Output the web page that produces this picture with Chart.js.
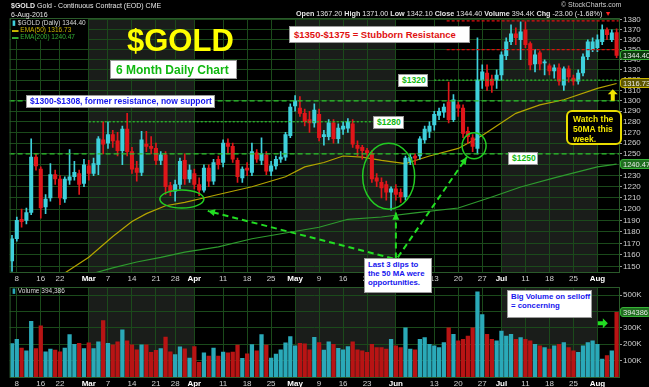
<!DOCTYPE html>
<html>
<head>
<meta charset="utf-8">
<script src="https://cdn.jsdelivr.net/npm/chart.js@4.4.1/dist/chart.umd.min.js"></script>
<style>
body { margin: 0; background: #000; }
#wrap { position: relative; width: 649px; height: 387px; background: #000; overflow: hidden; font-family: "Liberation Sans", Arial, sans-serif; }
canvas { position: absolute; left: 0; }
#priceCanvas { top: 0; }
#volCanvas { top: 287px; }
.t { position: absolute; white-space: nowrap; line-height: 1; }
.box { position: absolute; background: #fff; border: 1px solid #9a9a9a; font-weight: bold; white-space: nowrap; line-height: 1.15; box-sizing: border-box; }
.tag { position: absolute; left: 620px; height: 10px; padding: 0 2px; border-radius: 3px; font-size: 7.5px; line-height: 10px; box-sizing: border-box; }
</style>
</head>
<body>
<div id="wrap">
  <canvas id="priceCanvas" width="649" height="287"></canvas>
  <canvas id="volCanvas" width="649" height="100"></canvas>

  <div class="t" style="left:11px;top:2px;font-size:7px;color:#e6e6e6"><b>$GOLD</b> Gold - Continuous Contract (EOD) CME</div>
  <div class="t" style="left:11px;top:11px;font-size:7px;color:#e6e6e6">6-Aug-2016</div>
  <div class="t" style="left:561px;top:1px;font-size:7px;color:#cfcfcf">© StockCharts.com</div>
  <div class="t" id="quote" style="left:296px;top:10px;font-size:7.2px;color:#e6e6e6"><b>Open</b> 1367.20 <b>High</b> 1371.00 <b>Low</b> 1342.10 <b>Close</b> 1344.40 <b>Volume</b> 394.4K <b>Chg</b> -23.00 (-1.68%) <span style="color:#ff2020">▼</span></div>

  <div class="t" style="left:11px;top:19px;width:77px;height:21px;background:#000"></div>
  <div class="t" style="left:12px;top:20px;font-size:6.5px;color:#d8d8d8"><span style="color:#3fd0dc">▮</span> $GOLD (Daily) 1344.40</div>
  <div class="t" style="left:12px;top:27px;font-size:6.5px;color:#c9b400"><span>▬</span> EMA(50) 1316.73</div>
  <div class="t" style="left:12px;top:34px;font-size:6.5px;color:#35b035"><span>▬</span> EMA(200) 1240.47</div>

  <div class="t" style="left:127px;top:25px;font-size:31px;font-weight:bold;color:#ffff00">$GOLD</div>
  <div class="box" style="left:110px;top:60px;width:127px;height:19px;padding:3px 0 0 5px;font-size:12px;color:#10b810">6 Month Daily Chart</div>
  <div class="box" style="left:26px;top:95px;width:189px;height:13px;padding:1px 0 0 3px;font-size:8.5px;color:#1515ee">$1300-$1308, former resistance, now support</div>
  <div class="box" style="left:289px;top:26px;width:181px;height:17px;padding:3px 0 0 4px;font-size:9.5px;color:#e01010">$1350-$1375 = Stubborn Resistance</div>
  <div class="box" style="left:398px;top:74px;width:30px;height:13px;padding:1px 0 0 3px;font-size:8.5px;color:#10b810">$1320</div>
  <div class="box" style="left:373px;top:116px;width:31px;height:13px;padding:1px 0 0 3px;font-size:8.5px;color:#10b810">$1280</div>
  <div class="box" style="left:508px;top:152px;width:30px;height:13px;padding:1px 0 0 3px;font-size:8.5px;color:#10b810">$1250</div>
  <div class="box" style="left:566px;top:110px;width:56px;height:35px;padding:3px 0 0 5px;font-size:8.5px;color:#f2e600;background:#000;border:2px solid #e8dc00;border-radius:6px">Watch the<br>50MA this<br>week.</div>
  <div class="box" style="left:364px;top:258px;width:68px;height:35px;padding:2px 0 0 3px;font-size:7.8px;color:#1515ee">Last 3 dips to<br>the 50 MA were<br>opportunities.</div>
  <div class="box" style="left:507px;top:290px;width:85px;height:28px;padding:2px 0 0 3px;font-size:7.8px;color:#1515ee">Big Volume on selloff<br>= concerning</div>

  <div class="t" style="left:12px;top:288px;font-size:6.5px;color:#d8d8d8"><span style="color:#2aa9b8">▮</span> Volume 394,386</div>

  <div class="tag" id="tagClose" style="background:#0c3a0c;border:1px solid #37b337;color:#e8e8e8">1344.40</div>
  <div class="tag" id="tagEma50" style="background:#5e5600;border:1px solid #c9b400;color:#e8e8e8">1316.73</div>
  <div class="tag" id="tagEma200" style="background:#1f6e1f;border:1px solid #37b337;color:#e8e8e8">1240.47</div>
  <div class="tag" id="tagVol" style="background:#1f6e1f;border:1px solid #37b337;color:#e8e8e8">394386</div>
</div>

<script>
// trading days, 5-Feb-2016 .. 5-Aug-2016
const dates = [
  '2/5','2/8','2/9','2/10','2/11','2/12','2/16','2/17','2/18','2/19','2/22','2/23','2/24','2/25','2/26','2/29',
  '3/1','3/2','3/3','3/4','3/7','3/8','3/9','3/10','3/11','3/14','3/15','3/16','3/17','3/18','3/21','3/22','3/23','3/24','3/28','3/29','3/30','3/31',
  '4/1','4/4','4/5','4/6','4/7','4/8','4/11','4/12','4/13','4/14','4/15','4/18','4/19','4/20','4/21','4/22','4/25','4/26','4/27','4/28','4/29',
  '5/2','5/3','5/4','5/5','5/6','5/9','5/10','5/11','5/12','5/13','5/16','5/17','5/18','5/19','5/20','5/23','5/24','5/25','5/26','5/27','5/31',
  '6/1','6/2','6/3','6/6','6/7','6/8','6/9','6/10','6/13','6/14','6/15','6/16','6/17','6/20','6/21','6/22','6/23','6/24','6/27','6/28','6/29','6/30',
  '7/1','7/5','7/6','7/7','7/8','7/11','7/12','7/13','7/14','7/15','7/18','7/19','7/20','7/21','7/22','7/25','7/26','7/27','7/28','7/29',
  '8/1','8/2','8/3','8/4','8/5'
];

const opens = [
  1155,1174,1191,1190,1197,1247,1236,1202,1210,1231,1227,1209,1226,1229,1232,1223,
  1239,1232,1240,1263,1260,1268,1262,1253,1273,1252,1237,1233,1259,1257,1255,1244,1249,1221,1216,1222,1244,1227,
  1232,1222,1217,1237,1225,1245,1242,1260,1257,1244,1228,1237,1233,1251,1244,1249,1234,1239,1245,1247,1267,
  1295,1293,1288,1282,1279,1287,1266,1266,1279,1264,1273,1274,1278,1258,1256,1253,1250,1228,1224,1222,1215,
  1218,1215,1211,1243,1248,1248,1263,1271,1277,1286,1289,1299,1282,1296,1293,1271,1265,1255,1320,1327,1321,1320,
  1325,1344,1358,1366,1360,1370,1356,1336,1347,1337,1334,1329,1332,1315,1331,1322,1319,1327,1343,1350,
  1352,1358,1370,1360,1367.2
];
const highs = [
  1177,1193,1200,1201,1264,1250,1238,1213,1241,1235,1230,1229,1254,1243,1235,1245,
  1244,1246,1266,1280,1280,1272,1270,1276,1288,1256,1243,1271,1271,1266,1260,1252,1252,1224,1226,1246,1250,1240,
  1236,1228,1240,1240,1245,1248,1263,1264,1260,1246,1238,1242,1260,1254,1265,1252,1243,1248,1252,1270,1297,
  1305,1304,1292,1290,1297,1292,1272,1282,1282,1278,1280,1283,1282,1262,1258,1255,1253,1232,1228,1225,1220,
  1222,1218,1248,1250,1250,1266,1276,1280,1290,1293,1297,1318,1306,1299,1296,1275,1268,1362,1335,1335,1325,1330,
  1348,1362,1375,1372,1378,1378,1358,1350,1349,1340,1336,1335,1336,1333,1334,1325,1330,1346,1360,1362,
  1365,1375,1372,1370,1371
];
const lows = [
  1146,1172,1184,1187,1195,1235,1192,1196,1207,1222,1204,1206,1222,1226,1213,1220,
  1226,1230,1231,1250,1255,1256,1248,1240,1248,1232,1225,1230,1252,1250,1240,1240,1213,1212,1207,1218,1222,1224,
  1218,1212,1215,1220,1222,1236,1238,1250,1242,1224,1224,1230,1230,1242,1240,1231,1230,1236,1242,1244,1265,
  1290,1285,1276,1270,1275,1262,1258,1263,1260,1260,1268,1270,1256,1248,1245,1246,1224,1220,1210,1208,1199,
  1208,1206,1208,1240,1240,1245,1260,1265,1272,1282,1284,1279,1280,1285,1265,1260,1252,1250,1312,1310,1308,1312,
  1320,1340,1355,1355,1340,1352,1330,1328,1330,1325,1325,1322,1315,1310,1318,1315,1316,1324,1340,1348,
  1348,1355,1360,1358,1342.1
];
const closes = [
  1174,1190,1189,1197,1247,1239,1201,1209,1231,1227,1210,1227,1229,1233,1222,1240,
  1232,1241,1264,1259,1268,1262,1253,1273,1252,1236,1233,1263,1257,1255,1244,1249,1220,1216,1222,1243,1227,1235,
  1222,1217,1237,1225,1242,1240,1260,1257,1245,1229,1236,1235,1252,1245,1250,1234,1239,1245,1247,1268,1294,
  1300,1288,1280,1279,1291,1265,1268,1279,1264,1274,1276,1280,1259,1255,1253,1251,1227,1225,1219,1215,1218,
  1213,1211,1246,1247,1246,1264,1273,1276,1287,1290,1294,1282,1301,1293,1269,1266,1257,1320,1328,1314,1315,1325,
  1345,1358,1366,1362,1368,1355,1335,1345,1336,1338,1329,1332,1319,1331,1323,1319,1327,1343,1358,1358,
  1360,1370,1365,1367,1344.4
];
const volumes = [
  204,230,176,160,340,174,312,154,170,164,154,176,258,200,206,174,
  208,174,214,344,206,196,214,288,220,196,166,196,196,150,162,174,244,154,136,184,172,116,
  186,90,148,128,176,128,152,148,152,194,114,142,198,160,258,194,116,140,166,208,246,
  190,206,202,166,242,210,164,214,200,175,165,185,215,165,160,150,200,180,180,170,230,
  190,180,300,170,165,230,240,200,190,180,210,300,260,220,230,250,300,520,380,260,230,220,
  280,250,260,230,240,230,220,200,190,180,170,190,200,210,180,160,150,190,210,220,
  200,110,130,160,394.386
].map(v => v * 1000);

// EMA values at a few dates (lines join the readings)
const ema50Dates  = ['2/22','3/1','3/8','3/14','3/17','3/23','3/30','4/6','4/8','4/19','4/28','5/4','5/10','5/16','5/20','5/26','6/3','6/10','6/20','6/27','7/1','7/7','7/14','7/21','8/1','8/5'];
const ema50Vals   = [1142,1158,1176,1189,1196,1203,1206,1211,1213,1220,1229,1238,1242,1248,1247,1244,1241,1248,1255,1267,1279,1288,1296,1301,1312,1316.73];
const ema200Dates = ['2/26','3/8','3/15','3/22','3/30','4/8','4/19','4/28','5/9','5/17','5/26','6/7','6/20','6/29','7/8','7/19','8/1','8/5'];
const ema200Vals  = [1141,1149,1154,1158,1162.5,1167,1174,1179,1184,1191,1193,1196.6,1201,1210.8,1219.8,1228,1238,1240.47];

const tickDates = ['2/8','2/16','2/22','3/1','3/7','3/14','3/21','3/28','4/1','4/11','4/18','4/25','5/2','5/9','5/16','5/23','6/1','6/13','6/20','6/27','7/1','7/11','7/18','7/25','8/1'];
const tickText  = ['8','16','22','Mar','7','14','21','28','Apr','11','18','25','May','9','16','23','Jun','13','20','27','Jul','11','18','25','Aug'];
const monthNames = ['Mar','Apr','May','Jun','Jul','Aug'];
const priceTicks = [1150,1160,1170,1180,1190,1200,1210,1220,1230,1240,1250,1260,1270,1280,1290,1300,1310,1320,1330,1340,1350,1360,1370,1380];
const volTicks = [100000,200000,300000,400000,500000];

// drawn levels: [price, from date, to date]
const redLevels   = [[1379,'6/16','8/5'],[1350,'6/16','8/5']];
const greenDashed = [[1300,'2/5','8/5'],[1250,'2/5','8/5']];
const greenDotted = [[1320,'6/13','8/5'],[1280,'3/1','6/2']];

const GRID = '#1b4a1b';
const UP = '#3fd0dc', DOWN = '#e0161a';
const VUP = '#2aa9b8', VDOWN = '#b81414';
const candleColors = closes.map((c, i) => c >= opens[i] ? UP : DOWN);
const volColors = closes.map((c, i) => c >= opens[i] ? VUP : VDOWN);

function xAxis() {
  return {
    type: 'category', offset: true,
    grid: { color: GRID, offset: false, drawTicks: false },
    border: { display: false },
    afterBuildTicks: s => { s.ticks = tickDates.map(d => ({ value: dates.indexOf(d) })); },
    afterFit: s => { s.height = s.chart.canvas.id === 'priceCanvas' ? 15 : 10; },
    ticks: {
      autoSkip: false, maxRotation: 0, padding: 2,
      callback: v => tickText[tickDates.indexOf(dates[v])],
      color: c => monthNames.includes(c.tick.label) ? '#ffffff' : '#cfcfcf',
      font: c => ({ size: 8, weight: monthNames.includes(c.tick.label) ? 'bold' : 'normal', family: 'Liberation Sans, Arial' })
    }
  };
}

function yFit(s) {
  s.width = 30;
  s.paddingTop = 0;
  s.paddingBottom = 0;
}

// black background plus lighter shading on alternate months
const bgPlugin = {
  id: 'bg',
  beforeDraw(chart) {
    const { ctx, chartArea: a, scales: { x } } = chart;
    ctx.save();
    ctx.fillStyle = '#000';
    ctx.fillRect(0, 0, chart.width, chart.height);
    ctx.fillStyle = '#1a1d1a';
    ['3/1', '5/2', '7/1'].forEach((d, k) => {
      const end = ['4/1', '6/1', '8/1'][k];
      const x0 = x.getPixelForValue(dates.indexOf(d));
      const x1 = x.getPixelForValue(dates.indexOf(end));
      ctx.fillRect(x0, a.top, x1 - x0, a.bottom - a.top);
    });
    ctx.restore();
  },
  afterDraw(chart) {
    const { ctx, chartArea: a } = chart;
    ctx.save();
    ctx.strokeStyle = '#2a5a2a';
    ctx.lineWidth = 1;
    ctx.strokeRect(a.left + 0.5, a.top + 0.5, a.right - a.left, a.bottom - a.top);
    ctx.restore();
  }
};

function arrowHead(ctx, x0, y0, x1, y1, size) {
  const ang = Math.atan2(y1 - y0, x1 - x0);
  ctx.beginPath();
  ctx.moveTo(x1, y1);
  ctx.lineTo(x1 - size * Math.cos(ang - 0.45), y1 - size * Math.sin(ang - 0.45));
  ctx.lineTo(x1 - size * Math.cos(ang + 0.45), y1 - size * Math.sin(ang + 0.45));
  ctx.closePath();
  ctx.fill();
}

const notesPlugin = {
  id: 'notes',
  afterDatasetsDraw(chart) {
    const { ctx, scales: { x, y } } = chart;
    const px = d => x.getPixelForValue(typeof d === 'string' ? dates.indexOf(d) : d);
    const py = p => y.getPixelForValue(p);
    ctx.save();
    ctx.lineWidth = 1.2;
    ctx.strokeStyle = '#e01010';
    ctx.setLineDash([3, 2]);
    redLevels.forEach(([p, a, b]) => {
      ctx.beginPath(); ctx.moveTo(px(a) - 2, py(p)); ctx.lineTo(px(b) + 2, py(p)); ctx.stroke();
    });
    ctx.strokeStyle = '#2fc42f';
    ctx.setLineDash([5, 3]);
    greenDashed.forEach(([p]) => {
      ctx.beginPath(); ctx.moveTo(chart.chartArea.left, py(p)); ctx.lineTo(chart.chartArea.right, py(p)); ctx.stroke();
    });
    ctx.setLineDash([2, 2]);
    greenDotted.forEach(([p, a, b]) => {
      ctx.beginPath(); ctx.moveTo(px(a), py(p)); ctx.lineTo(px(b), py(p)); ctx.stroke();
    });

    // ellipses around the dips to the 50-day EMA
    ctx.setLineDash([]);
    ctx.strokeStyle = '#22cc22';
    ctx.lineWidth = 1.5;
    [[35.4, 1209, 22, 9], [78.5, 1229.5, 26, 33], [96.3, 1257.5, 12, 13]].forEach(([i, p, rx, ry]) => {
      ctx.beginPath(); ctx.ellipse(px(i), py(p), rx, ry, 0, 0, Math.PI * 2); ctx.stroke();
    });

    // dashed arrows from the note box
    ctx.strokeStyle = '#22dd22';
    ctx.fillStyle = '#22dd22';
    ctx.lineWidth = 2;
    [[[79.4, 1157], [40.8, 1198.4]], [[80, 1157], [80, 1197]], [[80.4, 1158], [94.8, 1247]]].forEach(([s, e]) => {
      const x0 = px(s[0]), y0 = py(s[1]), x1 = px(e[0]), y1 = py(e[1]);
      ctx.setLineDash([6, 4]);
      ctx.beginPath(); ctx.moveTo(x0, y0); ctx.lineTo(x1, y1); ctx.stroke();
      ctx.setLineDash([]);
      arrowHead(ctx, x0, y0, x1, y1, 8);
    });

    // yellow up arrow under the "watch" box
    const ax = px(125.2), ay0 = py(1300), ay1 = py(1311);
    ctx.fillStyle = '#f2e600';
    ctx.beginPath();
    ctx.moveTo(ax, ay1);
    ctx.lineTo(ax + 5, ay1 + 5);
    ctx.lineTo(ax + 2, ay1 + 5);
    ctx.lineTo(ax + 2, ay0);
    ctx.lineTo(ax - 2, ay0);
    ctx.lineTo(ax - 2, ay1 + 5);
    ctx.lineTo(ax - 5, ay1 + 5);
    ctx.closePath();
    ctx.fill();
    ctx.restore();
  }
};

const priceChart = new Chart(document.getElementById('priceCanvas'), {
  type: 'bar',
  data: {
    labels: dates,
    datasets: [
      { label: 'wick', data: lows.map((l, i) => [l, highs[i]]), backgroundColor: candleColors, barThickness: 1, grouped: false, order: 1 },
      { label: 'body', data: opens.map((o, i) => [o, closes[i]]), backgroundColor: candleColors, barThickness: 3.4, minBarLength: 1, grouped: false, order: 0 },
      { type: 'line', label: 'EMA(50)', data: dates.map(d => { const k = ema50Dates.indexOf(d); return k < 0 ? null : ema50Vals[k]; }),
        borderColor: '#b5a400', borderWidth: 1.2, pointRadius: 0, spanGaps: true, order: 2 },
      { type: 'line', label: 'EMA(200)', data: dates.map(d => { const k = ema200Dates.indexOf(d); return k < 0 ? null : ema200Vals[k]; }),
        borderColor: '#2e9a2e', borderWidth: 1.2, pointRadius: 0, spanGaps: true, order: 2 }
    ]
  },
  options: {
    responsive: false, animation: false, devicePixelRatio: 1,
    layout: { padding: { left: 9.6, top: 18, right: 0, bottom: 0 } },
    plugins: { legend: { display: false }, tooltip: { enabled: false } },
    scales: {
      x: xAxis(),
      y: {
        type: 'logarithmic', position: 'right', min: 1145.5, max: 1382,
        afterBuildTicks: s => { s.ticks = priceTicks.map(v => ({ value: v })); },
        afterFit: yFit,
        grid: { color: GRID, tickLength: 3, tickColor: '#9a9a9a' },
        border: { display: false },
        ticks: { autoSkip: false, color: '#cfcfcf', padding: 1, font: { size: 8, family: 'Liberation Sans, Arial' }, callback: v => String(v) }
      }
    }
  },
  plugins: [bgPlugin, notesPlugin]
});

const volNotes = {
  id: 'volNotes',
  afterDatasetsDraw(chart) {
    const { ctx, scales: { x, y } } = chart;
    const ax = x.getPixelForValue(122.3), ay = y.getPixelForValue(328000);
    ctx.save();
    ctx.fillStyle = '#22dd22';
    ctx.beginPath();
    ctx.moveTo(ax + 9, ay);
    ctx.lineTo(ax + 4, ay - 5);
    ctx.lineTo(ax + 4, ay - 2);
    ctx.lineTo(ax - 1, ay - 2);
    ctx.lineTo(ax - 1, ay + 2);
    ctx.lineTo(ax + 4, ay + 2);
    ctx.lineTo(ax + 4, ay + 5);
    ctx.closePath();
    ctx.fill();
    ctx.restore();
  }
};

const volChart = new Chart(document.getElementById('volCanvas'), {
  type: 'bar',
  data: {
    labels: dates,
    datasets: [{ label: 'Volume', data: volumes, backgroundColor: volColors, barThickness: 3.6 }]
  },
  options: {
    responsive: false, animation: false, devicePixelRatio: 1,
    layout: { padding: { left: 9.6, top: 0, right: 0, bottom: 0 } },
    plugins: { legend: { display: false }, tooltip: { enabled: false } },
    scales: {
      x: xAxis(),
      y: {
        type: 'linear', position: 'right', min: 0, max: 549000,
        afterBuildTicks: s => { s.ticks = volTicks.map(v => ({ value: v })); },
        afterFit: yFit,
        grid: { color: GRID, tickLength: 3, tickColor: '#9a9a9a' },
        border: { display: false },
        ticks: { autoSkip: false, color: '#cfcfcf', padding: 1, font: { size: 8, family: 'Liberation Sans, Arial' }, callback: v => (v / 1000) + 'K' }
      }
    }
  },
  plugins: [bgPlugin, volNotes]
});

// value tags on the right axes
const py = priceChart.scales.y;
document.getElementById('tagClose').style.top = (py.getPixelForValue(closes[closes.length - 1]) - 5) + 'px';
document.getElementById('tagEma50').style.top = (py.getPixelForValue(ema50Vals[ema50Vals.length - 1]) - 5) + 'px';
document.getElementById('tagEma200').style.top = (py.getPixelForValue(ema200Vals[ema200Vals.length - 1]) - 5) + 'px';
document.getElementById('tagVol').style.top = (287 + volChart.scales.y.getPixelForValue(volumes[volumes.length - 1]) - 5) + 'px';
</script>
</body>
</html>
